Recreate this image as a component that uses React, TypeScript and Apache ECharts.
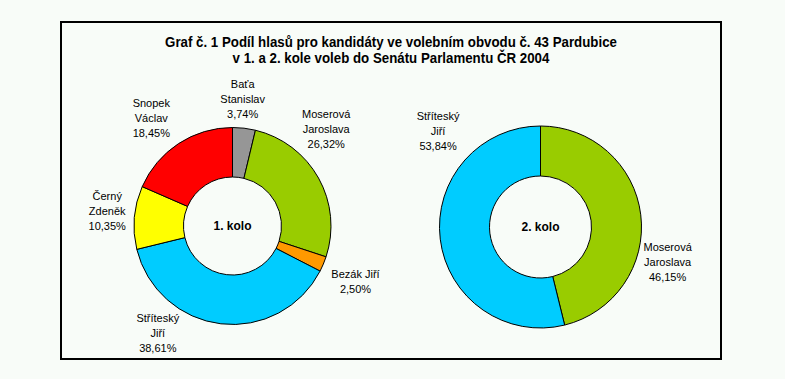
import React, { useEffect, useRef } from "react";
import * as echarts from "echarts";

const TITLE_LINES = [
  "Graf č. 1 Podíl hlasů pro kandidáty ve volebním obvodu č. 43 Pardubice",
  "v 1. a 2. kole voleb do Senátu Parlamentu ČR 2004",
];

const ROUND1_LABEL = "1. kolo";
const ROUND1_NAMES = [
  "Baťa\nStanislav",
  "Moserová\nJaroslava",
  "Bezák Jiří",
  "Stříteský\nJiří",
  "Černý\nZdeněk",
  "Snopek\nVáclav",
];
const ROUND1_VALUES = [3.74, 26.32, 2.5, 38.61, 10.35, 18.45];
const ROUND1_COLORS = ["#969696", "#99CC00", "#FF9900", "#00CCFF", "#FFFF00", "#FF0000"];

const ROUND2_LABEL = "2. kolo";
const ROUND2_NAMES = ["Moserová\nJaroslava", "Stříteský\nJiří"];
const ROUND2_VALUES = [46.15, 53.84];
const ROUND2_COLORS = ["#99CC00", "#00CCFF"];

// label nudges (px) relative to the library's default outside label position
const ROUND1_LABEL_NUDGE = [
  [-28.7, -28.7],
  [-21.5, -48.8],
  [3, 17.7],
  [-36.7, 8.7],
  [-3.5, -6.5],
  [-3.6, -25.2],
];
const ROUND2_LABEL_NUDGE = [
  [-2.3, 46.8],
  [24.2, -108.4],
];

const BG = "#F8FCF8";
const FONT = "'Liberation Sans', Arial, sans-serif";

const fmtPct = (v: number) => v.toFixed(2).replace(".", ",") + "%";

function makePie(
  names: string[],
  values: number[],
  colors: string[],
  nudge: number[][],
  center: [number, number],
  radius: [number, number]
) {
  return {
    type: "pie",
    center,
    radius,
    startAngle: 90,
    clockwise: true,
    avoidLabelOverlap: false,
    silent: true,
    data: names.map((n, i) => ({
      name: n,
      value: values[i],
      itemStyle: { color: colors[i] },
    })),
    itemStyle: { borderColor: "#000", borderWidth: 1 },
    label: {
      show: true,
      position: "outside",
      formatter: (p: any) => `${p.name}\n${fmtPct(p.value)}`,
      fontFamily: FONT,
      fontSize: 11,
      lineHeight: 15,
      color: "#000",
    },
    labelLine: { show: false, length: 0, length2: 0 },
    labelLayout: (params: any) => {
      const r = params.labelRect;
      const d = nudge[params.dataIndex] || [0, 0];
      return {
        x: r.x + r.width / 2 + d[0],
        y: r.y + r.height / 2 + d[1],
        align: "center",
        verticalAlign: "middle",
      };
    },
    emphasis: { disabled: true },
  };
}

export default function App() {
  const ref = useRef<HTMLDivElement>(null);
  useEffect(() => {
    if (!ref.current) return;
    const chart = echarts.init(ref.current, null, { renderer: "svg" });
    chart.setOption({
      animation: false,
      backgroundColor: BG,
      graphic: [
        {
          type: "rect",
          shape: { x: 61, y: 22, width: 660, height: 337 },
          style: { fill: "none", stroke: "#000", lineWidth: 2 },
          silent: true,
        },
        {
          type: "text",
          x: 391,
          y: 50,
          scaleX: 0.95,
          style: {
            text: TITLE_LINES.join("\n"),
            align: "center",
            verticalAlign: "middle",
            fontFamily: FONT,
            fontWeight: "bold",
            fontSize: 14,
            lineHeight: 16,
            fill: "#000",
          },
        },
        {
          type: "text",
          x: 232.5,
          y: 226,
          style: {
            text: ROUND1_LABEL,
            align: "center",
            verticalAlign: "middle",
            fontFamily: FONT,
            fontWeight: "bold",
            fontSize: 12,
            fill: "#000",
          },
        },
        {
          type: "text",
          x: 540.5,
          y: 227,
          style: {
            text: ROUND2_LABEL,
            align: "center",
            verticalAlign: "middle",
            fontFamily: FONT,
            fontWeight: "bold",
            fontSize: 12,
            fill: "#000",
          },
        },
      ],
      series: [
        makePie(ROUND1_NAMES, ROUND1_VALUES, ROUND1_COLORS, ROUND1_LABEL_NUDGE, [232.5, 226], [49, 98.5]),
        makePie(ROUND2_NAMES, ROUND2_VALUES, ROUND2_COLORS, ROUND2_LABEL_NUDGE, [540.5, 227], [51, 101]),
      ],
    });
    return () => chart.dispose();
  }, []);
  return (
    <div
      ref={ref}
      style={{ position: "absolute", left: 0, top: 0, width: 785, height: 379, background: BG }}
    />
  );
}
